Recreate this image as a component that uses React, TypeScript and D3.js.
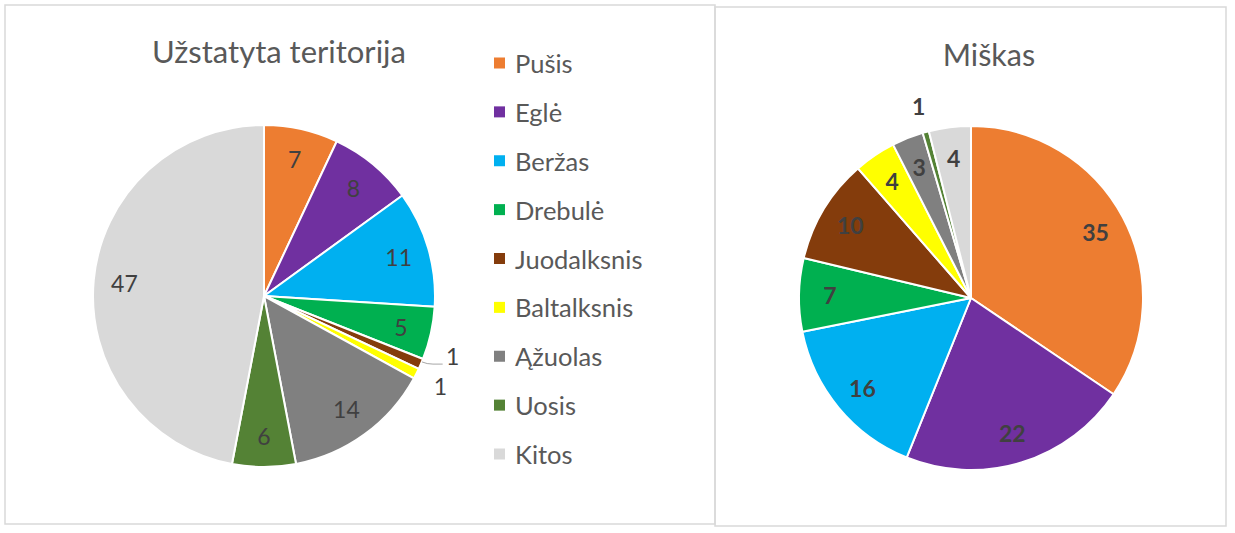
import React from 'react';
import * as d3 from 'd3';

// medžių rūšys ir spalvos
const species = ['Pušis', 'Eglė', 'Beržas', 'Drebulė', 'Juodalksnis', 'Baltalksnis', 'Ąžuolas', 'Uosis', 'Kitos'];
const colors = ['#ED7D31', '#7030A0', '#00B0F0', '#00B050', '#843C0C', '#FFFF00', '#808080', '#548235', '#D9D9D9'];

// Užstatyta teritorija (%)
const urbanValues = [7, 8, 11, 5, 1, 1, 14, 6, 47];
// Miškas (%)
const forestValues = [35, 22, 16, 7, 10, 4, 3, 0.6, 4];

const FONT = 'Lato, "Open Sans", sans-serif';
const TEXT = '#595959';
const LABEL = '#404040';

interface PieProps {
    values: number[];
    cx: number;
    cy: number;
    r: number;
    bold: boolean;
    leader: boolean;
}

const Pie: React.FC<PieProps> = ({ values, cx, cy, r, bold, leader }) => {
    const pie = d3.pie<number>().sort(null).value(d => d);
    const arcs = pie(values);
    const arc = d3.arc<d3.PieArcDatum<number>>().innerRadius(0).outerRadius(r);
    const total = d3.sum(values);
    const labelR = r * 0.82;
    const outR = r + 27;
    const fs = bold ? 23 : 23;

    // maži gabalai – etiketė išorėje
    const small = (v: number) => v / total < 0.02;
    const outside = arcs.filter(a => small(a.value));
    const outAngles = new Map<number, number>();
    outside.forEach((a, i) => {
        let ang = (a.startAngle + a.endAngle) / 2;
        const next = outside[i + 1];
        if (next && (next.startAngle + next.endAngle) / 2 - ang < 0.15) ang -= 0.1;
        outAngles.set(a.index, ang);
    });

    return (
        <g>
            {arcs.map(a => (
                <path key={a.index} d={arc(a) || ''} transform={`translate(${cx},${cy})`}
                    fill={colors[a.index]} stroke="#fff" strokeWidth={2} strokeLinejoin="round" />
            ))}
            {arcs.map(a => {
                const txt = String(Math.max(1, Math.round(a.value)));
                const mid = (a.startAngle + a.endAngle) / 2;
                const style = { fontFamily: FONT, fontSize: fs, fontWeight: bold ? 700 : 400 };
                if (small(a.value)) {
                    const ang = outAngles.get(a.index) as number;
                    const lx = cx + outR * Math.sin(ang);
                    const ly = cy - outR * Math.cos(ang);
                    const ex = cx + r * Math.sin(mid);
                    const ey = cy - r * Math.cos(mid);
                    const moved = Math.abs(ang - mid) > 0.01;
                    return (
                        <g key={'l' + a.index}>
                            {leader && moved && (
                                <path d={`M${ex + 1},${ey - 2} Q${ex + 6},${ly + 8} ${ex + 12},${ly + 8} L${lx - 10},${ly + 8}`}
                                    fill="none" stroke="#A6A6A6" strokeWidth={1} />
                            )}
                            <text x={lx} y={ly} textAnchor="middle" dominantBaseline="central" fill={LABEL} style={style}>{txt}</text>
                        </g>
                    );
                }
                const lx = cx + labelR * Math.sin(mid);
                const ly = cy - labelR * Math.cos(mid);
                return (
                    <text key={'l' + a.index} x={lx} y={ly} textAnchor="middle" dominantBaseline="central"
                        fill={LABEL} style={style}>{txt}</text>
                );
            })}
        </g>
    );
};

export default function App() {
    const legendY = d3.scalePoint<string>().domain(species).range([63, 454]);

    return (
        <svg width={1235} height={533} style={{ position: 'absolute', left: 0, top: 0, background: '#fff' }}>
            <rect x={0} y={0} width={1235} height={533} fill="#fff" />
            {/* rėmeliai */}
            <rect x={5} y={5} width={710} height={519} fill="none" stroke="#D9D9D9" strokeWidth={1.5} />
            <rect x={715} y={7} width={511} height={519} fill="none" stroke="#D9D9D9" strokeWidth={1.5} />

            <text x={279} y={63} textAnchor="middle" fontFamily={FONT} fontSize={31} fill={TEXT}>Užstatyta teritorija</text>
            <Pie values={urbanValues} cx={264} cy={296} r={171} bold={false} leader={true} />

            {species.map((s, i) => (
                <g key={s}>
                    <rect x={494} y={(legendY(s) as number) - 5.5} width={11} height={11} fill={colors[i]} />
                    <text x={515} y={legendY(s) as number} dominantBaseline="central"
                        fontFamily={FONT} fontSize={25.5} fill={TEXT}>{s}</text>
                </g>
            ))}

            <text x={989} y={66} textAnchor="middle" fontFamily={FONT} fontSize={30.5} fill={TEXT}>Miškas</text>
            <Pie values={forestValues} cx={971} cy={298} r={172} bold={true} leader={false} />
        </svg>
    );
}
